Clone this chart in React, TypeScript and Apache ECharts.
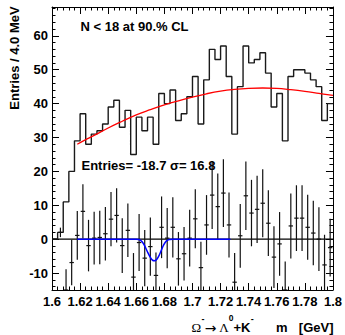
import React, { useEffect, useRef } from "react";
import * as echarts from "echarts";

// ---- data ----
const histCounts = [
  0, 2, 11, 20, 29, 37, 28, 31, 32, 34,
  39, 41, 33, 38, 25, 36, 32, 36, 28, 43,
  40, 44, 35, 37, 42, 48, 34, 47, 56, 53,
  57, 48, 31, 45, 57, 52, 53, 55, 49, 39,
  43, 29, 48, 50, 50, 49, 47, 45, 35, 40,
];
const residuals = [
  0, 2, -15, -6.9, 1.1, 8.2, -1.9, 0.3, 0.5, 1.6,
  5.9, 7, -1.9, 2.6, -11.2, -1, -5.6, -2.2, -10.7, 3.5,
  0.3, 3.5, -5.8, -4.3, 0.3, 6, -8.4, 4.2, 13, 9.6,
  13.6, 4.2, -12.7, 1, 12.8, 7.7, 8.8, 10.6, 4.7, -5.3,
  -1.4, -15.2, 3.9, 6.2, 6.2, 3.5, 1.8, 0, -7.6, -2.5,
];
const residualErrors = [
  0, 1.4, 6.1, 6.7, 7.2, 8.0, 7.6, 7.8, 7.9, 7.9,
  8.0, 8.0, 8.1, 7.9, 7.1, 8.4, 8.3, 8.6, 6.8, 9.1,
  8.9, 8.9, 7.9, 7.9, 8.4, 8.7, 7.6, 8.8, 10, 9.8,
  10, 9.6, 8.6, 9.4, 10.1, 9.8, 9.9, 10, 9.7, 9.1,
  9.4, 8.6, 9.6, 9.7, 9.7, 9.6, 9.5, 9.4, 8.9, 8.5,
];
const fitMass = [1.618, 1.625, 1.63, 1.64, 1.65, 1.66, 1.67, 1.68, 1.69, 1.7, 1.71, 1.72, 1.73, 1.74, 1.75, 1.76, 1.77, 1.78, 1.79, 1.8];
const fitValues = [28, 29.6, 30.6, 32.8, 34.8, 36.7, 38.2, 39.6, 40.8, 41.9, 42.9, 43.7, 44.2, 44.5, 44.6, 44.5, 44.1, 43.6, 43.0, 42.4];
const signalMass = [1.618, 1.66, 1.662, 1.664, 1.666, 1.668, 1.67, 1.6715, 1.6727, 1.674, 1.6755, 1.6775, 1.6795, 1.6815, 1.6835, 1.686, 1.727];
const signalValues = [0, 0, -0.1, -0.7, -2.0, -3.8, -5.4, -6.2, -6.4, -6.2, -5.4, -3.6, -1.7, -0.5, -0.1, 0, 0];
const xTickLabels = ["1.6", "1.62", "1.64", "1.66", "1.68", "1.7", "1.72", "1.74", "1.76", "1.78", "1.8"];
const yTickLabels = ["-10", "0", "10", "20", "30", "40", "50", "60"];

const massMin = 1.6;
const massMax = 1.8;
const binWidth = 0.004;
const yMin = -15;
const yMax = 68.5;

const SANS = '"Liberation Sans", Arial, Helvetica, sans-serif';
const SERIF = '"Liberation Serif", "DejaVu Serif", serif';

function txt(text: string, x: number, y: number, font: string, align: string = "left", extra: any = {}) {
  return {
    type: "text",
    x,
    y,
    z: 10,
    ...extra,
    style: { text, fill: "#000", font, textAlign: align, textVerticalAlign: "middle", align, verticalAlign: "middle" },
  };
}

export default function App() {
  const ref = useRef<HTMLDivElement>(null);

  useEffect(() => {
    if (!ref.current) return;
    const chart = echarts.init(ref.current, undefined, { renderer: "svg" });

    const xMajor = xTickLabels.map((s) => parseFloat(s));
    const xMinor: number[] = [];
    for (let k = 0; k <= 50; k++) xMinor.push(Math.round((massMin + k * binWidth) * 10000) / 10000);
    const yMajor = yTickLabels.map((s) => parseFloat(s));
    const yMinor: number[] = [];
    for (let v = -14; v <= 68; v += 2) yMinor.push(v);

    const xFmt = (v: number) => {
      const f = xTickLabels.find((s) => Math.abs(parseFloat(s) - v) < 1e-6);
      return f ?? "";
    };
    const labelStyle = { color: "#000", fontFamily: SANS, fontWeight: "bold" as const, fontSize: 13 };

    const mkX = (pos: "bottom" | "top", major: boolean) => ({
      type: "value",
      min: massMin,
      max: massMax,
      position: pos,
      axisLine: { show: major, onZero: false, lineStyle: { color: "#000", width: 1 } },
      axisTick: { show: true, inside: true, length: major ? 7 : 3.5, customValues: major ? xMajor : xMinor, lineStyle: { color: "#000", width: 1 } },
      axisLabel: major && pos === "bottom"
        ? { show: true, customValues: xMajor, formatter: xFmt, margin: 5, ...labelStyle }
        : { show: false },
      splitLine: { show: false },
    });
    const mkY = (pos: "left" | "right", major: boolean) => ({
      type: "value",
      min: yMin,
      max: yMax,
      position: pos,
      axisLine: { show: major, onZero: false, lineStyle: { color: "#000", width: 1 } },
      axisTick: { show: true, inside: true, length: major ? 7 : 3.5, customValues: major ? yMajor : yMinor, lineStyle: { color: "#000", width: 1 } },
      axisLabel: major && pos === "left"
        ? { show: true, customValues: yMajor, formatter: (v: number) => String(Math.round(v)), margin: 4, ...labelStyle }
        : { show: false },
      splitLine: { show: false },
    });

    const histData: number[][] = histCounts.map((c, i) => [massMin + i * binWidth, c]);
    histData.push([massMax, histCounts[histCounts.length - 1]]);

    const errData = residuals.map((v, i) => [massMin + (i + 0.5) * binWidth, v, residualErrors[i]]);

    const option: any = {
      animation: false,
      backgroundColor: "#fff",
      grid: { left: 52, right: 11.5, top: 7, bottom: 45, containLabel: false },
      xAxis: [mkX("bottom", true), mkX("bottom", false), mkX("top", true), mkX("top", false)],
      yAxis: [mkY("left", true), mkY("left", false), mkY("right", true), mkY("right", false)],
      series: [
        {
          type: "line",
          name: "zero",
          data: [[massMin, 0], [massMax, 0]],
          symbol: "none",
          lineStyle: { color: "#000", width: 1.2 },
          z: 2,
        },
        {
          type: "line",
          name: "hist",
          step: "end",
          data: histData,
          symbol: "none",
          lineStyle: { color: "#1a1a1a", width: 1.4 },
          z: 3,
        },
        {
          type: "line",
          name: "fit",
          data: fitMass.map((m, i) => [m, fitValues[i]]),
          smooth: 0.4,
          symbol: "none",
          lineStyle: { color: "#ff0000", width: 1.3 },
          z: 4,
        },
        {
          type: "custom",
          name: "residuals",
          data: errData,
          clip: true,
          z: 5,
          renderItem: (params: any, api: any) => {
            const x = api.value(0);
            const v = api.value(1);
            const e = api.value(2);
            const lo = Math.max(v - e, yMin);
            const hi = Math.min(v + e, yMax);
            const pTop = api.coord([x, hi]);
            const pBot = api.coord([x, lo]);
            const pc = api.coord([x, Math.max(v, yMin)]);
            const style = { stroke: "#111", lineWidth: 1.2 };
            return {
              type: "group",
              children: [
                { type: "line", shape: { x1: pTop[0], y1: pTop[1], x2: pBot[0], y2: pBot[1] }, style },
                { type: "line", shape: { x1: pc[0] - 2.2, y1: pc[1], x2: pc[0] + 2.2, y2: pc[1] }, style },
              ],
            };
          },
        },
        {
          type: "line",
          name: "signal",
          data: signalMass.map((m, i) => [m, signalValues[i]]),
          smooth: 0.3,
          symbol: "none",
          lineStyle: { color: "#0000ff", width: 1.5 },
          z: 6,
        },
      ],
      graphic: [
        txt("N < 18 at 90.% CL", 80.5, 26.3, `bold 13px ${SANS}`),
        txt("Entries= -18.7 σ= 16.8", 81.5, 165, `bold 13px ${SANS}`),
        txt("Entries / 4.0 MeV", 14, 58, `bold 13px ${SANS}`, "center", { rotation: Math.PI / 2 }),
        // x-axis title pieces (laid out so their boxes do not overlap)
        txt("Ω", 191.5, 327, `13px ${SERIF}`),
        txt("-", 201.6, 319, `bold 9px ${SANS}`),
        txt("→", 204.8, 327.5, `14px "DejaVu Sans", sans-serif`),
        txt("Λ", 219.3, 327, `13px ${SERIF}`),
        txt("0", 228.8, 318, `bold 8.5px ${SANS}`),
        txt("+K", 233.5, 327, `bold 13px ${SANS}`),
        txt("-", 250.7, 319, `bold 9px ${SANS}`),
        txt("m", 276, 327, `bold 13px ${SANS}`),
        txt("[GeV]", 333.5, 327, `bold 13px ${SANS}`, "right"),
      ],
    };

    chart.setOption(option);
    return () => chart.dispose();
  }, []);

  return (
    <div
      ref={ref}
      style={{ position: "fixed", left: 0, top: 0, width: 345, height: 335, background: "#fff" }}
    />
  );
}
